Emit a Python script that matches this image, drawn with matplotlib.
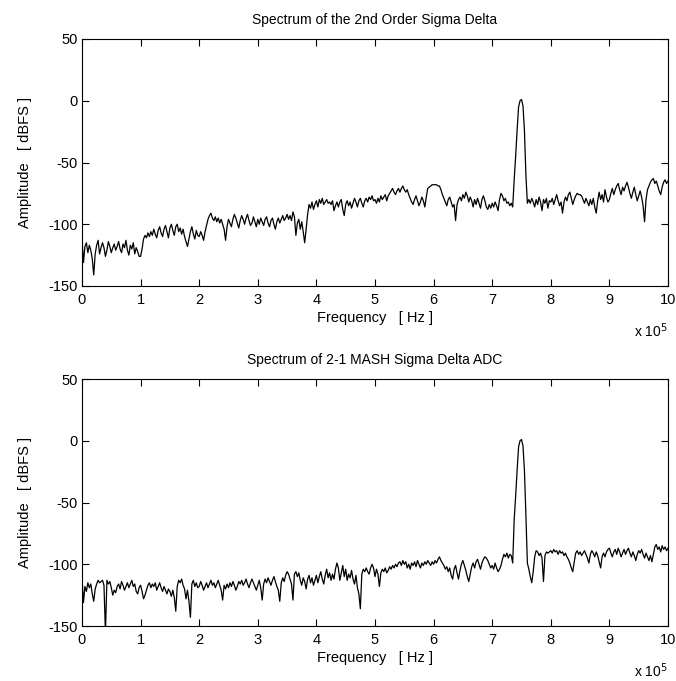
import numpy as np
import matplotlib
matplotlib.use("Agg")
import matplotlib.pyplot as plt

plt.rcParams['font.family'] = ['Liberation Sans', 'DejaVu Sans']

# frequency bins: 0 .. 10 (x 1e5 Hz) in steps of 0.025
freq_units = np.linspace(0, 10, 401)

top_vals = [
    # 0 - 1
    -112, -131, -118, -115, -123, -117, -121, -128, -141, -124, -117, -113, -124, -119, -115, -119, -126, -121, -114, -118,
    -123, -119, -116, -121, -118, -114, -120, -123, -116, -119, -113, -121, -125, -117, -120, -115, -124, -119, -122, -126,
    # 1 - 2
    -126, -120, -112, -109, -111, -107, -110, -106, -109, -104, -108, -111, -105, -102, -107, -110, -104, -101, -106, -111,
    -103, -100, -105, -109, -102, -100, -106, -103, -108, -104, -110, -114, -118, -112, -106, -102, -108, -112, -105, -109,
    # 2 - 3
    -110, -106, -109, -113, -106, -101, -96, -93, -91, -95, -97, -94, -98, -95, -99, -96, -100, -104, -113, -102,
    -96, -99, -102, -96, -92, -95, -99, -103, -97, -93, -96, -100, -95, -92, -97, -101, -99, -94, -98, -102,
    # 3 - 4
    -96, -100, -95, -98, -101, -96, -94, -99, -102, -97, -95, -100, -104, -98, -95, -99, -96, -93, -97, -95,
    -92, -96, -93, -97, -90, -94, -109, -99, -96, -104, -98, -106, -115, -104, -92, -84, -87, -82, -88, -84,
    # 4 - 5
    -81, -86, -80, -83, -79, -84, -82, -80, -83, -82, -84, -81, -89, -85, -82, -86, -82, -80, -88, -93,
    -84, -81, -85, -82, -87, -83, -79, -82, -86, -81, -79, -83, -86, -81, -79, -82, -78, -80, -77, -81,
    # 5 - 6
    -80, -83, -79, -82, -77, -80, -78, -76, -81, -77, -75, -73, -71, -74, -76, -73, -71, -74, -71, -69,
    -72, -74, -72, -76, -79, -82, -84, -80, -77, -81, -85, -82, -78, -81, -86, -78, -71, -70, -69, -68,
    # 6 - 7
    -68, -68, -68, -69, -69, -72, -76, -79, -82, -85, -80, -78, -82, -86, -84, -97, -84, -80, -78, -81,
    -76, -79, -74, -77, -82, -78, -81, -86, -80, -84, -79, -83, -87, -80, -77, -81, -86, -88, -84, -87,
    # 7 - 8
    -83, -86, -82, -85, -89, -80, -75, -77, -81, -79, -83, -82, -85, -83, -86, -64, -45, -24, -5, 0,
    1, -4, -24, -60, -83, -80, -83, -79, -82, -86, -80, -84, -78, -82, -89, -80, -83, -79, -87, -81,
    # 8 - 9
    -82, -79, -84, -80, -76, -81, -85, -82, -91, -82, -78, -81, -76, -74, -79, -84, -80, -77, -75, -76,
    -76, -77, -80, -83, -79, -82, -85, -80, -84, -79, -86, -91, -81, -74, -80, -76, -82, -72, -78, -82,
    # 9 - 10
    -80, -75, -71, -76, -72, -69, -67, -72, -76, -70, -73, -69, -66, -70, -75, -79, -74, -70, -76, -81,
    -77, -73, -78, -85, -98, -80, -72, -69, -66, -64, -63, -67, -65, -69, -73, -76, -70, -66, -64, -67,
    -65,
]

bottom_vals = [
    # 0 - 1
    -111, -131, -118, -122, -115, -119, -116, -124, -130, -120, -116, -113, -115, -114, -113, -117, -156, -113, -116, -114,
    -119, -125, -121, -123, -118, -116, -120, -114, -117, -121, -118, -115, -119, -116, -113, -118, -116, -122, -124, -119,
    # 1 - 2
    -117, -122, -128, -125, -121, -117, -115, -119, -116, -118, -115, -121, -118, -115, -119, -122, -118, -121, -124, -120,
    -122, -126, -121, -127, -138, -118, -113, -115, -112, -117, -120, -128, -121, -130, -143, -116, -113, -118, -115, -119,
    # 2 - 3
    -118, -114, -117, -121, -118, -115, -119, -116, -113, -117, -115, -119, -116, -113, -117, -121, -129, -117, -120, -116,
    -119, -115, -118, -114, -117, -121, -118, -114, -116, -113, -117, -115, -112, -116, -119, -115, -112, -115, -118, -121,
    # 3 - 4
    -117, -113, -119, -129, -116, -112, -115, -111, -114, -117, -113, -110, -114, -118, -121, -130, -115, -111, -114, -109,
    -106, -108, -112, -116, -129, -108, -106, -110, -107, -113, -117, -111, -114, -120, -112, -109, -115, -111, -117, -113,
    # 4 - 5
    -109, -115, -110, -106, -112, -116, -109, -104, -111, -107, -113, -108, -112, -104, -99, -103, -113, -107, -101, -110,
    -104, -113, -108, -111, -105, -112, -116, -109, -119, -124, -136, -108, -104, -106, -103, -106, -108, -103, -100, -103,
    # 5 - 6
    -110, -104, -108, -118, -107, -104, -106, -103, -107, -105, -102, -104, -101, -103, -100, -102, -99, -98, -101, -97,
    -100, -98, -103, -100, -104, -99, -101, -98, -102, -97, -100, -103, -99, -101, -98, -100, -97, -99, -101, -98,
    # 6 - 7
    -100, -97, -99, -96, -94, -97, -99, -101, -104, -102, -106, -103, -109, -112, -104, -101, -107, -112, -105, -100,
    -97, -101, -105, -110, -114, -108, -102, -99, -103, -98, -96, -100, -104, -99, -96, -94, -95, -97, -100, -103,
    # 7 - 8
    -101, -104, -99, -103, -106, -104, -101, -96, -92, -94, -91, -95, -92, -93, -99, -64, -45, -24, -5, 0,
    1, -4, -24, -60, -99, -104, -110, -115, -106, -94, -89, -90, -93, -91, -95, -114, -93, -90, -91, -90,
    # 8 - 9
    -89, -91, -88, -90, -89, -92, -89, -91, -90, -93, -91, -94, -96, -99, -103, -106, -98, -91, -89, -92,
    -90, -93, -91, -89, -92, -95, -99, -92, -89, -91, -94, -90, -93, -98, -103, -94, -91, -94, -90, -88,
    # 9 - 10
    -87, -91, -94, -90, -88, -92, -87, -90, -94, -91, -88, -92, -89, -87, -91, -94, -90, -93, -97, -92,
    -89, -91, -88, -92, -95, -91, -94, -97, -93, -98, -92, -86, -84, -88, -86, -90, -85, -88, -86, -89,
    -87,
]

titles = ["Spectrum of the 2nd Order Sigma Delta", "Spectrum of 2-1 MASH Sigma Delta ADC"]
xtick_vals = list(range(0, 11))
ytick_vals = [-150, -100, -50, 0, 50]

freq_hz = freq_units * 1e5

fig = plt.figure(figsize=(6.76, 6.81), dpi=100)
W, H = 676, 681
boxes = [(82, 39, 668, 286), (82, 379, 668, 626)]
series = [top_vals, bottom_vals]

for (l, t, r, b), vals, title in zip(boxes, series, titles):
    ax = fig.add_axes([l / W, 1 - b / H, (r - l) / W, (b - t) / H])
    ax.plot(freq_hz, vals, color='black', linewidth=0.9)
    ax.set_xlim(0, 1e6)
    ax.set_ylim(-150, 50)
    ax.set_xticks([v * 1e5 for v in xtick_vals])
    ax.set_xticklabels([str(v) for v in xtick_vals])
    ax.set_yticks(ytick_vals)
    ax.set_yticklabels([str(v) for v in ytick_vals])
    ax.tick_params(direction='in', length=5, width=0.8, top=True, right=True,
                   labelsize=10.5, colors='black')
    ax.tick_params(axis='x', pad=5)
    ax.tick_params(axis='y', pad=3)
    for s in ax.spines.values():
        s.set_linewidth(0.8)
        s.set_color('black')
    ax.set_title(title, fontsize=10, pad=10.5)
    ax.set_xlabel("Frequency   [ Hz ]", fontsize=10.5, labelpad=3)
    ax.set_ylabel("Amplitude   [ dBFS ]", fontsize=10.5, labelpad=12)
    ax.text(1.0, -0.18, "x 10$^5$", transform=ax.transAxes, ha='right', va='center',
            fontsize=10)

fig.savefig("out.png", dpi=100, facecolor='white')
